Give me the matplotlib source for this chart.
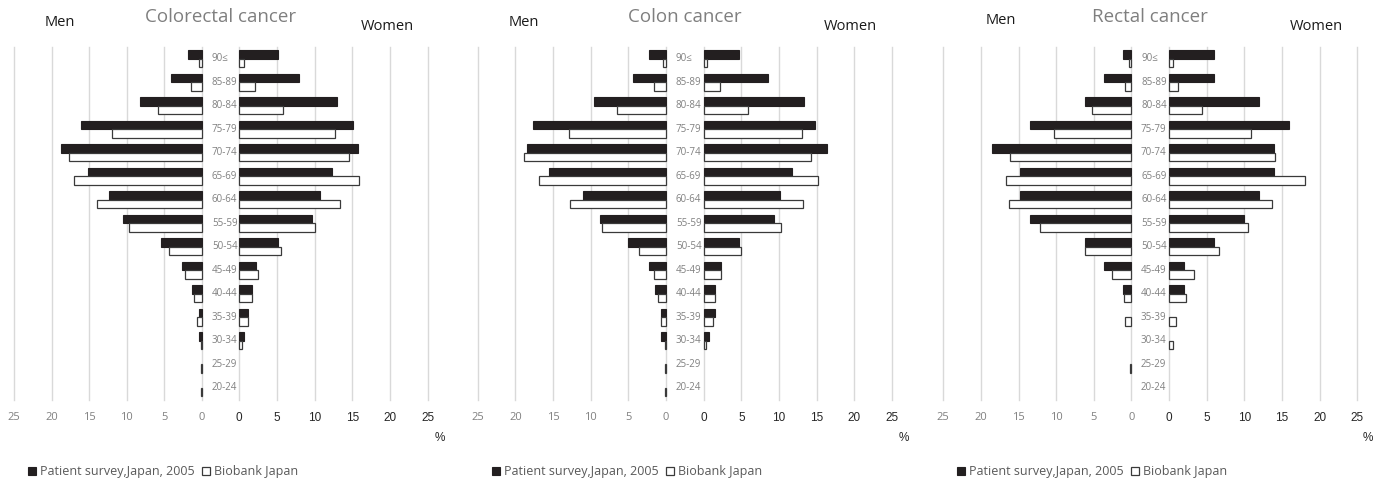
import matplotlib
matplotlib.use("Agg")
import matplotlib.pyplot as plt
import matplotlib.transforms as mtransforms

# ---------------- data ----------------
ages = ['90≤', '85-89', '80-84', '75-79', '70-74', '65-69', '60-64', '55-59',
        '50-54', '45-49', '40-44', '35-39', '30-34', '25-29', '20-24']

panel_titles = ['Colorectal cancer', 'Colon cancer', 'Rectal cancer']
series_names = ['Patient survey,Japan, 2005', 'Biobank Japan']
x_ticks = [0, 5, 10, 15, 20, 25]

colorectal_men_survey = [1.8, 4.1, 8.2, 16.1, 18.8, 15.2, 12.4, 10.5, 5.5, 2.7, 1.3, 0.4, 0.35, 0, 0]
colorectal_men_biobank = [0.45, 1.5, 5.9, 12.0, 17.7, 17.0, 13.9, 9.7, 4.4, 2.2, 1.1, 0.7, 0.1, 0.08, 0.08]
colorectal_women_survey = [5.1, 7.9, 12.9, 15.1, 15.7, 12.3, 10.7, 9.6, 5.1, 2.3, 1.7, 1.2, 0.7, 0, 0]
colorectal_women_biobank = [0.6, 2.1, 5.8, 12.7, 14.5, 15.9, 13.4, 10.1, 5.5, 2.5, 1.7, 1.15, 0.4, 0, 0]

colon_men_survey = [2.2, 4.4, 9.6, 17.7, 18.5, 15.5, 11.0, 8.8, 5.1, 2.2, 1.4, 0.65, 0.65, 0, 0]
colon_men_biobank = [0.45, 1.55, 6.5, 12.9, 18.9, 16.8, 12.7, 8.5, 3.6, 1.6, 1.05, 0.6, 0.15, 0.08, 0.08]
colon_women_survey = [4.65, 8.5, 13.3, 14.8, 16.4, 11.7, 10.1, 9.3, 4.65, 2.3, 1.55, 1.55, 0.75, 0, 0]
colon_women_biobank = [0.45, 2.2, 5.9, 13.1, 14.3, 15.2, 13.2, 10.3, 5.0, 2.35, 1.5, 1.2, 0.35, 0, 0]

rectal_men_survey = [1.15, 3.6, 6.1, 13.5, 18.5, 14.8, 14.8, 13.5, 6.1, 3.6, 1.15, 0, 0, 0, 0]
rectal_men_biobank = [0.25, 0.9, 5.2, 10.3, 16.1, 16.6, 16.2, 12.1, 6.2, 2.6, 1.0, 0.9, 0, 0.15, 0]
rectal_women_survey = [6.0, 6.0, 12.0, 15.9, 13.9, 13.9, 12.0, 9.95, 6.0, 2.0, 2.0, 0, 0, 0, 0]
rectal_women_biobank = [0.55, 1.25, 4.35, 10.9, 14.1, 18.1, 13.7, 10.5, 6.7, 3.35, 2.25, 0.95, 0.55, 0, 0]

panels_data = [
    (colorectal_men_survey, colorectal_men_biobank, colorectal_women_survey, colorectal_women_biobank),
    (colon_men_survey, colon_men_biobank, colon_women_survey, colon_women_biobank),
    (rectal_men_survey, rectal_men_biobank, rectal_women_survey, rectal_women_biobank),
]

# ---------------- layout (pixels) ----------------
W, H = 1384, 483
fig = plt.figure(figsize=(W / 100, H / 100), dpi=100)
fig.patch.set_facecolor('white')

TXT = 'Open Sans'
NUM = 'Liberation Sans'
BLACK = '#231f20'
EDGE = '#3a3a3a'
GRID = '#d9d9d9'
GRAYTXT = '#808080'

AX_TOP, AX_BOT = 47, 399.5
panel_layout = [
    dict(lx0=14, lx1=202, rx0=239, rx1=428, agex=212, tx=221, menx=60, menY=22, womx=387, womY=27, pctx=440, legx=28),
    dict(lx0=477.7, lx1=666, rx0=703.7, rx1=892, agex=676, tx=685, menx=524, menY=22, womx=850, womY=27, pctx=904, legx=492),
    dict(lx0=943.3, lx1=1131.3, rx0=1169, rx1=1357.3, agex=1141, tx=1150, menx=1001, menY=20, womx=1316, womY=26, pctx=1368, legx=957),
]


def fx(px):
    return px / W


def fy(py):
    return 1 - py / H


n = len(ages)
pos = list(range(n))
bh = 0.36


def style_axis(ax, left):
    for s in ax.spines.values():
        s.set_visible(False)
    ax.set_ylim(n - 0.5, -0.5)
    ax.set_yticks([])
    ax.set_xticks(x_ticks)
    ax.set_xticklabels([str(t) for t in x_ticks])
    ax.xaxis.grid(True, color=GRID, linewidth=1.0)
    for gl in ax.get_xgridlines():
        gl.set_clip_on(False)
    ax.set_axisbelow(True)
    ax.tick_params(axis='x', length=0, pad=9)
    for lab in ax.get_xticklabels():
        if left:
            lab.set_fontfamily(TXT)
            lab.set_fontsize(8)
            lab.set_color(GRAYTXT)
        else:
            lab.set_fontfamily(NUM)
            lab.set_fontsize(8.5)
            lab.set_color('#262626')


for k, (lay, data, title) in enumerate(zip(panel_layout, panels_data, panel_titles)):
    men_s, men_b, wom_s, wom_b = data
    bottom = fy(AX_BOT)
    height = (AX_BOT - AX_TOP) / H
    axL = fig.add_axes([fx(lay['lx0']), bottom, fx(lay['lx1'] - lay['lx0']), height])
    axR = fig.add_axes([fx(lay['rx0']), bottom, fx(lay['rx1'] - lay['rx0']), height])

    for ax, s_vals, b_vals, left in ((axL, men_s, men_b, True), (axR, wom_s, wom_b, False)):
        lw_s = [0.8 if v > 0 else 0 for v in s_vals]
        lw_b = [0.9 if v > 0 else 0 for v in b_vals]
        hs = ax.barh([p - bh / 2 for p in pos], s_vals, height=bh, color=BLACK,
                     edgecolor=BLACK, linewidth=lw_s, label=series_names[0], zorder=3)
        hb = ax.barh([p + bh / 2 for p in pos], b_vals, height=bh, color='white',
                     edgecolor=EDGE, linewidth=lw_b, label=series_names[1], zorder=3)
        for bar in list(hs) + list(hb):
            bar.set_clip_on(False)
        if left:
            ax.set_xlim(25, 0)
        else:
            ax.set_xlim(0, 25)
        style_axis(ax, left)

    # age labels between the halves
    tr = mtransforms.blended_transform_factory(fig.transFigure, axR.transData)
    for p, a in zip(pos, ages):
        t = fig.text(fx(lay['agex']), 0, a, transform=tr, ha='left', va='center',
                     fontsize=7, color=GRAYTXT, fontfamily=TXT)
        t.set_position((fx(lay['agex']), p))

    fig.text(fx(lay['tx']), fy(17), title, ha='center', va='center',
             fontsize=13.5, color='#7f7f7f', fontfamily=TXT)
    fig.text(fx(lay['menx']), fy(lay['menY']), 'Men', ha='center', va='center',
             fontsize=10.5, color='#1a1a1a', fontfamily=TXT)
    fig.text(fx(lay['womx']), fy(lay['womY']), 'Women', ha='center', va='center',
             fontsize=10.5, color='#1a1a1a', fontfamily=TXT)
    fig.text(fx(lay['pctx']), fy(438), '%', ha='center', va='center',
             fontsize=8.5, color='#262626', fontfamily=NUM)

    fig.legend(handles=[hs, hb], labels=series_names, loc='center left',
               bbox_to_anchor=(fx(lay['legx']), fy(472)), ncol=2, frameon=False,
               handlelength=0.65, handleheight=0.65, handletextpad=0.3,
               columnspacing=0.6, borderaxespad=0, borderpad=0,
               prop={'family': TXT, 'size': 9}, labelcolor='#595959')

fig.savefig('out.png', dpi=100, facecolor='white')
